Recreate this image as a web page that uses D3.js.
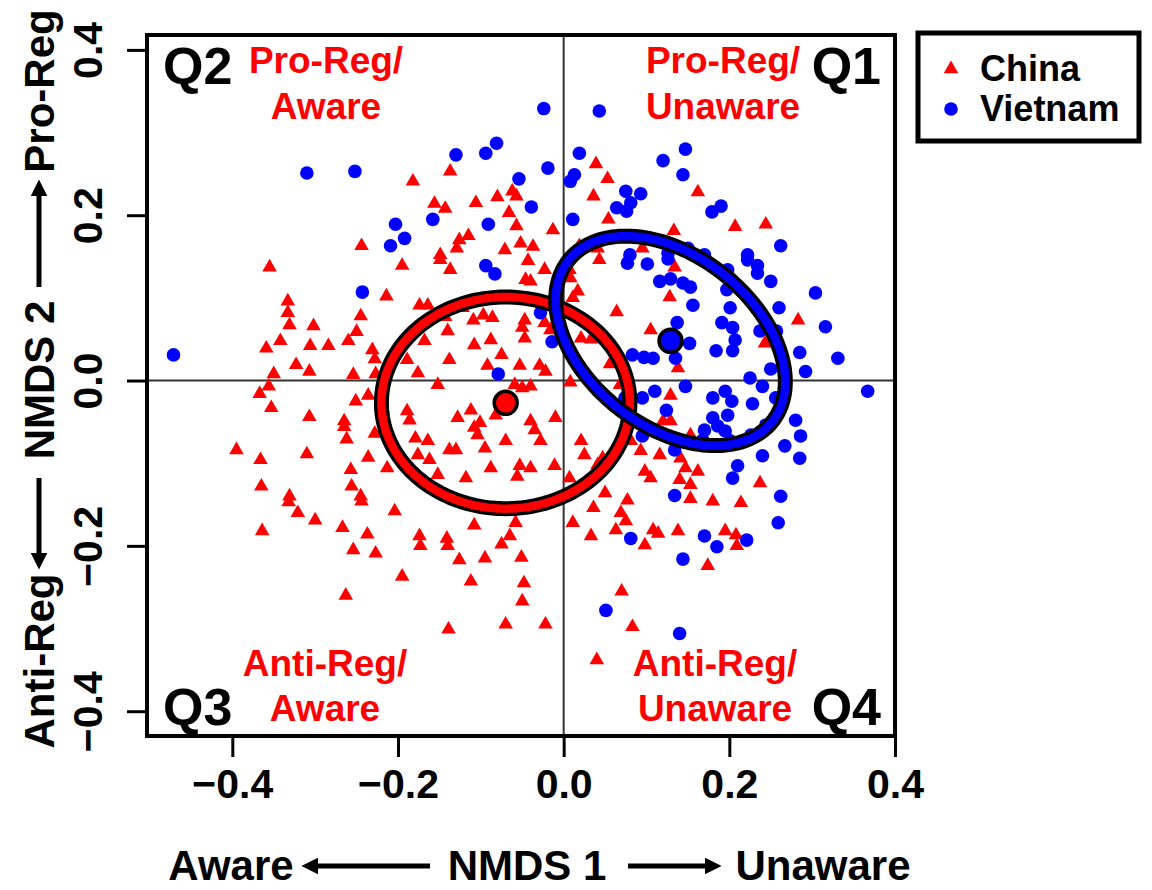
<!DOCTYPE html>
<html><head><meta charset="utf-8">
<script src="https://cdn.jsdelivr.net/npm/d3@7"></script>
<style>
body{margin:0;background:#fff}
svg{display:block}
text{font-family:"Liberation Sans",Arial,Helvetica,sans-serif;font-weight:bold}
</style>
</head><body>
<svg id="chart" width="1152" height="890"></svg>
<script>
// ---------------- data ----------------
const groups = ["China", "Vietnam"];
const groupColors = ["#ff0000", "#0000ff"];
const xTicks = [-0.4, -0.2, 0.0, 0.2, 0.4];
const yTicks = [-0.4, -0.2, 0.0, 0.2, 0.4];

const chinaPoints = [
[-0.244,0.163],[-0.182,0.241],[-0.137,0.253],[-0.156,0.214],[-0.143,0.208],[-0.106,0.215],[-0.080,0.222],[-0.062,0.229],[-0.057,0.223],[-0.066,0.203],[-0.057,0.187],[-0.013,0.182],[-0.115,0.175],[-0.126,0.170],[-0.052,0.166],[-0.037,0.162],[-0.071,0.158],[-0.149,0.152],[0.039,0.262],[0.053,0.244],[0.036,0.223],[0.054,0.195],[0.041,0.160],[0.095,0.160],[0.019,0.163],[-0.129,0.160],
[0.162,0.228],[0.207,0.186],[0.244,0.189],[0.133,0.181],
[-0.355,0.137],[-0.214,0.102],[-0.333,0.096],[-0.333,0.082],[-0.331,0.067],[-0.302,0.066],[-0.245,0.078],[-0.250,0.059],[-0.342,0.048],[-0.359,0.039],[-0.306,0.042],[-0.284,0.042],[-0.260,0.048],[-0.231,0.037],[-0.228,0.026],[-0.323,0.019],[-0.307,0.011],[-0.350,0.008],[-0.254,0.007],[-0.227,0.008],[-0.356,-0.007],[-0.367,-0.016],[-0.251,-0.025],[-0.236,-0.018],[-0.353,-0.033],[-0.307,-0.044],[-0.265,-0.049],[-0.265,-0.056],[-0.262,-0.071],[-0.228,-0.064],[-0.395,-0.084],[-0.366,-0.096],[-0.310,-0.089],[-0.236,-0.093],[-0.257,-0.108],[-0.213,-0.106],[-0.365,-0.128],[-0.256,-0.128],[-0.331,-0.140],[-0.245,-0.140],
[-0.149,0.146],[-0.137,0.134],[-0.195,0.139],[-0.043,0.145],[-0.046,0.122],[-0.040,0.120],[-0.023,0.134],[0.007,0.134],[0.008,0.124],[0.017,0.108],[0.011,0.100],[0.043,0.146],[-0.174,0.091],[-0.164,0.091],[-0.122,0.088],[-0.143,0.077],[-0.109,0.073],[-0.097,0.079],[-0.086,0.076],[-0.047,0.073],[-0.050,0.064],[-0.023,0.070],[-0.016,0.061],[0.064,0.083],[-0.168,0.048],[-0.140,0.060],[-0.108,0.043],[-0.088,0.049],[-0.075,0.031],[-0.047,0.051],[0.021,0.051],[0.033,0.050],[-0.189,0.025],[-0.138,0.025],[-0.092,0.018],[-0.053,0.018],[-0.029,0.018],[-0.022,0.011],[0.056,0.020],[-0.176,0.009],[-0.152,-0.005],[-0.059,-0.005],[-0.050,-0.009],[-0.040,-0.007],[0.008,-0.002],[0.068,-0.005],[-0.189,-0.037],[-0.186,-0.048],[-0.128,-0.045],[-0.112,-0.036],[-0.101,-0.051],[-0.082,-0.042],[-0.040,-0.049],[-0.035,-0.060],[-0.010,-0.045],[-0.104,-0.066],[-0.108,-0.057],[-0.179,-0.070],[-0.164,-0.073],[-0.070,-0.073],[-0.028,-0.073],[0.021,-0.073],[-0.138,-0.084],[-0.130,-0.084],[-0.095,-0.082],[-0.176,-0.090],[-0.162,-0.096],[0.025,-0.090],[0.047,-0.094],[-0.088,-0.106],[-0.053,-0.103],[-0.040,-0.106],[-0.011,-0.103],[-0.152,-0.114],[-0.118,-0.118],[-0.056,-0.116],[0.007,-0.118],[0.041,-0.102],[0.081,-0.073],[0.093,-0.085],[0.098,-0.110],[0.050,-0.136],
[0.134,0.137],[0.128,0.101],[0.105,0.061],[0.243,0.045],[0.283,0.073],[0.138,0.015],[0.129,-0.018],[0.120,-0.049],[0.129,-0.049],[0.153,-0.066],[0.116,-0.090],[0.141,-0.094],[0.147,-0.106],[0.162,-0.110],[0.140,-0.120],[0.153,-0.126],[0.105,-0.118],[0.237,-0.124],
[-0.332,-0.147],[-0.321,-0.160],[-0.300,-0.169],[-0.364,-0.182],[-0.267,-0.178],[-0.237,-0.186],[-0.254,-0.205],[-0.227,-0.209],[-0.244,-0.146],[-0.204,-0.158],[-0.263,-0.260],
[-0.174,-0.188],[-0.173,-0.200],[-0.141,-0.191],[-0.140,-0.200],[-0.108,-0.175],[-0.058,-0.172],[-0.065,-0.188],[-0.075,-0.198],[-0.126,-0.217],[-0.095,-0.215],[-0.051,-0.214],[-0.195,-0.237],[-0.112,-0.243],[-0.048,-0.245],[-0.050,-0.267],[-0.139,-0.301],[-0.070,-0.295],[-0.022,-0.295],[0.011,-0.172],[0.036,-0.154],[0.033,-0.188],[0.063,-0.181],[0.075,-0.170],[0.069,-0.160],[0.077,-0.145],[0.098,-0.199],[0.070,-0.255],[0.083,-0.298],[0.040,-0.338],
[0.180,-0.146],[0.214,-0.148],[0.153,-0.143],[0.108,-0.181],[0.114,-0.185],[0.138,-0.182],[0.195,-0.182],[0.208,-0.187],[0.209,-0.200],[0.174,-0.224]
];

const vietnamPoints = [
[-0.471,0.031],[-0.310,0.251],[-0.252,0.253],[-0.203,0.189],[-0.192,0.172],[-0.209,0.163],[-0.243,0.107],[-0.024,0.329],[0.043,0.326],[-0.081,0.287],[-0.094,0.275],[-0.130,0.273],[-0.019,0.257],[0.019,0.275],[-0.054,0.244],[0.013,0.249],[0.008,0.241],[-0.039,0.210],[-0.158,0.195],[-0.091,0.189],[0.011,0.195],[0.075,0.229],[0.093,0.226],[0.081,0.215],[0.064,0.209],[0.076,0.205],[0.080,0.152],[0.147,0.280],[0.120,0.266],[0.144,0.249],[0.190,0.211],[0.179,0.204],[0.262,0.163],[0.222,0.152],[0.126,0.154],[0.150,0.160],[0.170,0.152],[-0.094,0.139],[-0.083,0.129],[-0.028,0.082],[-0.014,0.047],[-0.079,0.008],[0.077,0.142],[0.101,0.141],[0.126,0.147],[0.083,0.031],[0.097,0.028],[0.074,-0.021],[0.095,-0.021],[0.095,-0.067],
[0.116,0.120],[0.129,0.123],[0.144,0.118],[0.153,0.113],[0.156,0.091],[0.137,0.070],[0.152,0.045],[0.108,0.027],[0.135,0.027],[0.198,0.134],[0.197,0.110],[0.201,0.088],[0.191,0.070],[0.204,0.064],[0.207,0.049],[0.204,0.036],[0.184,0.036],[0.222,0.146],[0.234,0.139],[0.234,0.130],[0.250,0.120],[0.304,0.106],[0.260,0.088],[0.237,0.060],[0.257,0.060],[0.316,0.065],[0.285,0.034],[0.331,0.027],[0.250,0.014],[0.292,0.011],[0.225,0.003],[0.240,-0.007],[0.147,-0.007],[0.110,-0.013],[0.367,-0.013],[0.180,-0.021],[0.195,-0.013],[0.203,-0.025],[0.228,-0.028],[0.256,-0.021],[0.261,-0.036],[0.124,-0.036],[0.198,-0.042],[0.180,-0.045],[0.280,-0.048],[0.244,-0.054],[0.286,-0.067],[0.170,-0.060],[0.186,-0.055],[0.195,-0.061],[0.201,-0.073],[0.168,-0.072],[0.226,-0.066],[0.219,-0.073],[0.267,-0.079],[0.285,-0.094],[0.240,-0.091],[0.210,-0.103],[0.204,-0.118],[0.134,-0.084],[0.134,-0.139],[0.262,-0.140],[0.081,-0.191],[0.051,-0.278],[0.259,-0.172],[0.170,-0.188],[0.185,-0.201],[0.221,-0.193],[0.144,-0.216],[0.140,-0.306]
];

// group centroids and 95% ellipses (centre, semi-axes in data units, rotation in degrees)
const centroidX = [-0.070, 0.129];
const centroidY = [-0.027, 0.048];
const ellipseA = [0.150, 0.157];
const ellipseB = [0.128, 0.103];
const ellipseAngle = [0, -38.5];

const quadrantNames = ["Q1", "Q2", "Q3", "Q4"];
const quadrantLabels = [["Pro-Reg/", "Unaware"], ["Pro-Reg/", "Aware"], ["Anti-Reg/", "Aware"], ["Anti-Reg/", "Unaware"]];

// ---------------- chart ----------------
const svg = d3.select("#chart");
const box = {left: 147, right: 895, top: 35, bottom: 736};
const x = d3.scaleLinear().domain([-0.503, 0.4]).range([box.left, box.right]);
const y = d3.scaleLinear().domain([-0.43, 0.418]).range([box.bottom, box.top]);
const fmt = d => (d < 0 ? "\u2212" : "") + Math.abs(d).toFixed(1);

// axes
const xAxis = svg.append("g").attr("transform", `translate(0,${box.bottom})`)
  .call(d3.axisBottom(x).tickValues(xTicks).tickFormat(fmt).tickSize(21).tickPadding(10));
xAxis.select(".domain").remove();
xAxis.selectAll(".tick line").attr("stroke", "#000").attr("stroke-width", 3);
xAxis.selectAll(".tick text").attr("font-size", 41).attr("fill", "#000").attr("dy", "0.76em");

const yAxis = svg.append("g").attr("transform", `translate(${box.left},0)`)
  .call(d3.axisLeft(y).tickValues(yTicks).tickFormat(fmt).tickSize(20).tickPadding(0));
yAxis.select(".domain").remove();
yAxis.selectAll(".tick line").attr("stroke", "#000").attr("stroke-width", 3);
yAxis.selectAll(".tick text").attr("font-size", 41).attr("fill", "#000")
  .attr("x", null).attr("dy", null)
  .attr("text-anchor", "middle")
  .attr("transform", "translate(-45,0) rotate(-90)");

// zero lines
svg.append("line").attr("x1", x(0)).attr("x2", x(0)).attr("y1", box.top).attr("y2", box.bottom)
  .attr("stroke", "#333").attr("stroke-width", 2);
svg.append("line").attr("x1", box.left).attr("x2", box.right).attr("y1", y(0)).attr("y2", y(0))
  .attr("stroke", "#333").attr("stroke-width", 2);

// points
const tri = d3.symbol().type(d3.symbolTriangle).size(92);
svg.append("g").selectAll("path").data(chinaPoints).join("path")
  .attr("d", tri).attr("transform", d => `translate(${x(d[0])},${y(d[1])})`)
  .attr("fill", groupColors[0]);
svg.append("g").selectAll("circle").data(vietnamPoints).join("circle")
  .attr("cx", d => x(d[0])).attr("cy", d => y(d[1])).attr("r", 6.8)
  .attr("fill", groupColors[1]);

// ellipses
const line = d3.line().curve(d3.curveLinearClosed);
groups.forEach((g, i) => {
  const phi = ellipseAngle[i] * Math.PI / 180;
  const pts = d3.range(0, 2 * Math.PI, Math.PI / 90).map(t => {
    const ex = ellipseA[i] * Math.cos(t), ey = ellipseB[i] * Math.sin(t);
    return [x(centroidX[i] + ex * Math.cos(phi) - ey * Math.sin(phi)),
            y(centroidY[i] + ex * Math.sin(phi) + ey * Math.cos(phi))];
  });
  svg.append("path").attr("d", line(pts)).attr("fill", "none").attr("stroke", "#000").attr("stroke-width", 15);
  svg.append("path").attr("d", line(pts)).attr("fill", "none").attr("stroke", groupColors[i]).attr("stroke-width", 8.5);
});
groups.forEach((g, i) => {
  svg.append("circle").attr("cx", x(centroidX[i])).attr("cy", y(centroidY[i])).attr("r", 11.5)
    .attr("fill", groupColors[i]).attr("stroke", "#000").attr("stroke-width", 3.5);
});

// box
svg.append("rect").attr("x", box.left).attr("y", box.top)
  .attr("width", box.right - box.left).attr("height", box.bottom - box.top)
  .attr("fill", "none").attr("stroke", "#000").attr("stroke-width", 4);

// quadrant labels
const qPos = [
  {qx: 881, qy: 84, anchor: "end", lx: 723, ly: [73, 119]},
  {qx: 163, qy: 84, anchor: "start", lx: 326, ly: [73, 119]},
  {qx: 163, qy: 725, anchor: "start", lx: 325, ly: [676, 721]},
  {qx: 881, qy: 725, anchor: "end", lx: 715, ly: [676, 721]}
];
quadrantNames.forEach((q, i) => {
  const p = qPos[i];
  svg.append("text").attr("x", p.qx).attr("y", p.qy).attr("text-anchor", p.anchor)
    .attr("font-size", 52).attr("fill", "#000").text(q);
  quadrantLabels[i].forEach((t, j) => {
    svg.append("text").attr("x", p.lx).attr("y", p.ly[j]).attr("text-anchor", "middle")
      .attr("font-size", 37).attr("fill", "#ff0000").text(t);
  });
});

// legend
const lg = svg.append("g");
lg.append("rect").attr("x", 918).attr("y", 33).attr("width", 221).attr("height", 108)
  .attr("fill", "#fff").attr("stroke", "#000").attr("stroke-width", 5);
groups.forEach((g, i) => {
  const cy = 69 + i * 40;
  if (i === 0) lg.append("path").attr("d", tri).attr("transform", `translate(951,${cy})`).attr("fill", groupColors[0]);
  else lg.append("circle").attr("cx", 951).attr("cy", cy).attr("r", 6.8).attr("fill", groupColors[1]);
  lg.append("text").attr("x", 980).attr("y", cy + 12).attr("font-size", 36).attr("fill", "#000").text(g);
});

// arrows
const defs = svg.append("defs");
defs.append("marker").attr("id", "ah").attr("viewBox", "0 0 10 10").attr("refX", 2).attr("refY", 5)
  .attr("markerWidth", 3.4).attr("markerHeight", 3.4).attr("orient", "auto")
  .append("path").attr("d", "M0,0 L10,5 L0,10 Z").attr("fill", "#000");
function arrow(x1, y1, x2, y2) {
  svg.append("line").attr("x1", x1).attr("y1", y1).attr("x2", x2).attr("y2", y2)
    .attr("stroke", "#000").attr("stroke-width", 5).attr("marker-end", "url(#ah)");
}

// x title
const xt = [["Aware", 231], ["NMDS 1", 527], ["Unaware", 823]];
xt.forEach(d => svg.append("text").attr("x", d[1]).attr("y", 880).attr("text-anchor", "middle")
  .attr("font-size", 42).attr("fill", "#000").text(d[0]));
arrow(430, 866, 315, 866);
arrow(628, 866, 708, 866);

// y title
const yt = [["Anti-Reg", 661], ["NMDS 2", 380], ["Pro-Reg", 91]];
yt.forEach(d => svg.append("text").attr("transform", `translate(54,${d[1]}) rotate(-90)`)
  .attr("text-anchor", "middle").attr("font-size", 42).attr("fill", "#000").text(d[0]));
arrow(39, 478, 39, 556);
arrow(39, 287, 39, 193);
</script>
</body></html>
